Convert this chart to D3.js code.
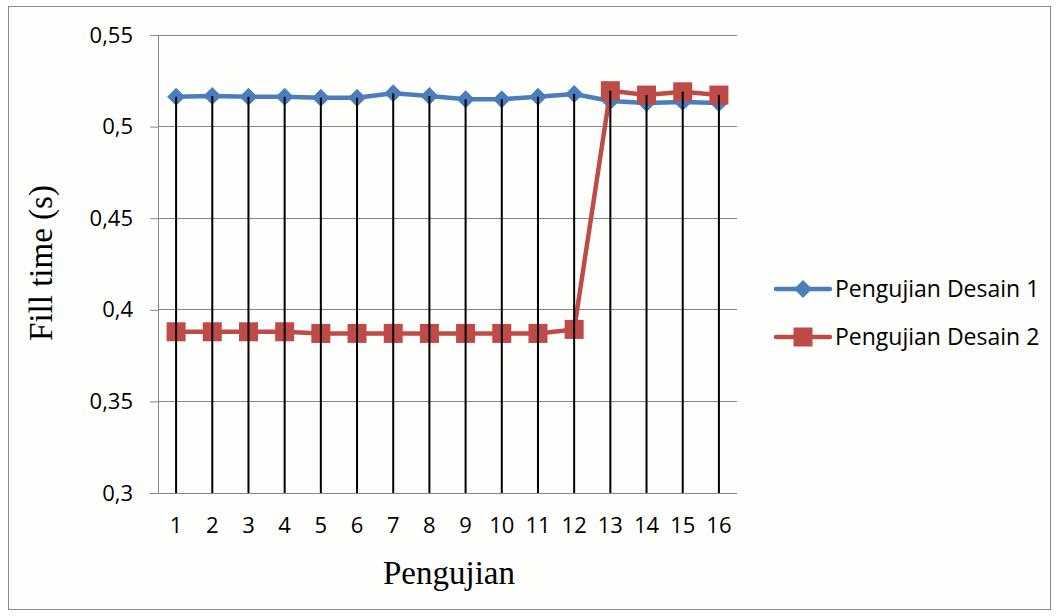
<!DOCTYPE html>
<html><head><meta charset="utf-8">
<script src="https://cdn.jsdelivr.net/npm/d3@7"></script>
<style>body{margin:0;background:#fff}</style>
</head><body><svg id="c" width="1058" height="616"></svg>
<script>
const categories = ["1","2","3","4","5","6","7","8","9","10","11","12","13","14","15","16"];
const desain1 = [0.5163,0.5167,0.5163,0.5163,0.5158,0.5158,0.5182,0.5167,0.5149,0.5149,0.5163,0.5178,0.5140,0.5129,0.5134,0.5129];
const desain2 = [0.3880,0.3880,0.3880,0.3880,0.3871,0.3871,0.3871,0.3871,0.3871,0.3871,0.3871,0.3893,0.5196,0.5172,0.5190,0.5172];
const yTicks = [0.3,0.35,0.4,0.45,0.5,0.55];
const seriesNames = ["Pengujian Desain 1","Pengujian Desain 2"];
const colors = ["#4A7EBB","#BE4B48"];

const svg = d3.select("#c");
svg.append("rect").attr("x",8.5).attr("y",6.5).attr("width",1042).attr("height",603)
  .attr("fill","#fefefc").attr("stroke","#8a8a8a").attr("stroke-width",1);

const L=158, R=737, T=35, B=493;
const x = d3.scaleBand().domain(categories).range([L,R]);
const y = d3.scaleLinear().domain([0.3,0.55]).range([B,T]);
const fmt = d => d3.format("")(d).replace(".",",");
const tickFont = "Open Sans, sans-serif";

// gridlines
svg.append("g").selectAll("line").data(yTicks).join("line")
  .attr("x1",L).attr("x2",R).attr("y1",d=>y(d)).attr("y2",d=>y(d))
  .attr("stroke","#878787").attr("stroke-width",1).attr("shape-rendering","crispEdges");

// y axis
const ya = svg.append("g").attr("transform",`translate(${L},0)`)
  .call(d3.axisLeft(y).tickValues(yTicks).tickFormat(fmt).tickSize(8).tickPadding(17));
ya.select(".domain").attr("stroke","#878787");
ya.selectAll(".tick line").attr("stroke","#878787");
ya.selectAll("text").attr("font-family",tickFont).attr("font-size",22).attr("fill","#000");

// x axis
const xa = svg.append("g").attr("transform",`translate(0,${B})`)
  .call(d3.axisBottom(x).tickSize(0).tickPadding(24));
xa.select(".domain").attr("stroke","#878787").attr("d",`M${L-8},0.5H${R}`);
xa.selectAll("text").attr("font-family",tickFont).attr("font-size",22).attr("fill","#000");

const cx = i => x(categories[i])+x.bandwidth()/2;
const line = d3.line().x((d,i)=>cx(i)).y(d=>y(d));

function diamond(g,px,py,s){ g.append("path").attr("d",`M${px},${py-s}L${px+s},${py}L${px},${py+s}L${px-s},${py}Z`).attr("fill",colors[0]); }
function square(g,px,py,s){ g.append("rect").attr("x",px-s).attr("y",py-s).attr("width",2*s).attr("height",2*s).attr("fill",colors[1]); }

const g1 = svg.append("g");
g1.append("path").datum(desain1).attr("d",line).attr("fill","none").attr("stroke",colors[0]).attr("stroke-width",4.5).attr("stroke-linejoin","round");
desain1.forEach((v,i)=>diamond(g1,cx(i),y(v),9));
const g2 = svg.append("g");
g2.append("path").datum(desain2).attr("d",line).attr("fill","none").attr("stroke",colors[1]).attr("stroke-width",4.5).attr("stroke-linejoin","round");
desain2.forEach((v,i)=>square(g2,cx(i),y(v),9.5));

// drop lines (drawn over markers)
svg.append("g").selectAll("line").data(categories).join("line")
  .attr("x1",d=>x(d)+x.bandwidth()/2).attr("x2",d=>x(d)+x.bandwidth()/2)
  .attr("y1",(d,i)=>y(Math.max(desain1[i],desain2[i]))).attr("y2",B)
  .attr("stroke","#000").attr("stroke-width",2);

// legend
const leg = svg.append("g");
seriesNames.forEach((n,i)=>{
  const ly = 289 + i*48;
  leg.append("line").attr("x1",776).attr("x2",830).attr("y1",ly).attr("y2",ly).attr("stroke",colors[i]).attr("stroke-width",4.5).attr("stroke-linecap","round");
  if(i===0) diamond(leg,803,ly,9); else square(leg,803,ly,9.5);
  leg.append("text").attr("x",835).attr("y",ly).attr("dy","0.35em").text(n)
    .attr("font-family",tickFont).attr("font-size",23).attr("fill","#000");
});

// axis titles
svg.append("text").attr("transform","translate(40,263) rotate(-90)").attr("text-anchor","middle").attr("dy","0.35em")
  .text("Fill time (s)").attr("font-family","Liberation Serif, serif").attr("font-size",33);
svg.append("text").attr("x",449).attr("y",572).attr("text-anchor","middle").attr("dy","0.35em")
  .text("Pengujian").attr("font-family","Liberation Serif, serif").attr("font-size",33);
</script></body></html>
